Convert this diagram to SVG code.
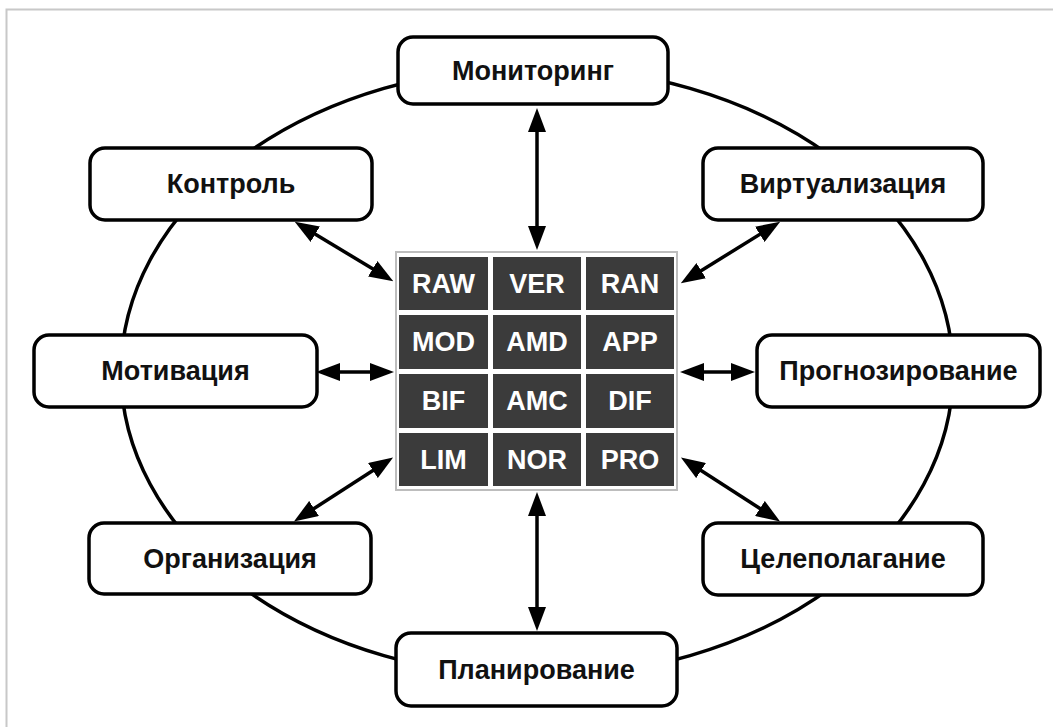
<svg xmlns="http://www.w3.org/2000/svg" width="1053" height="727" viewBox="0 0 1053 727">
<style>
.node rect{fill:#fff;stroke:#000;stroke-width:3.5}
.node text{font-family:"Liberation Sans",Arial,sans-serif;font-weight:bold;font-size:27px;fill:#111;text-anchor:middle;dominant-baseline:central}
.cell rect{fill:#3b3b3b}
.cell text{font-family:"Liberation Sans",Arial,sans-serif;font-weight:bold;font-size:27px;fill:#fff;text-anchor:middle;dominant-baseline:central}
.conn line{stroke:#000;stroke-width:3.5;marker-start:url(#ah);marker-end:url(#ah)}
</style>
<defs>
<marker id="ah" markerUnits="userSpaceOnUse" markerWidth="24" markerHeight="18" viewBox="0 0 24 18" refX="12" refY="9" orient="auto-start-reverse">
<path d="M0,0 L24,9 L0,18 z" fill="#000"/>
</marker>
</defs>
<rect x="0" y="0" width="1053" height="727" fill="#fff"/>
<rect x="6.5" y="9.5" width="1100" height="800" fill="none" stroke="#c8c8c8" stroke-width="2"/>
<ellipse cx="537" cy="372" rx="416" ry="305" fill="none" stroke="#000" stroke-width="3.5"/>
<g class="conn">
<line x1="537" y1="120" x2="537" y2="238"/>
<line x1="537" y1="504" x2="537" y2="619"/>
<line x1="305" y1="228" x2="383" y2="275"/>
<line x1="691" y1="277" x2="770" y2="228"/>
<line x1="328" y1="372" x2="382" y2="372"/>
<line x1="692" y1="372" x2="743" y2="372"/>
<line x1="383" y1="464" x2="304" y2="515"/>
<line x1="691" y1="464" x2="770" y2="515"/>
</g>
<g id="grid">
<rect x="396" y="252" width="281" height="238" fill="#fff" stroke="#bdbdbd" stroke-width="2"/>
<g class="cell" id="c-raw"><rect x="399" y="257" width="89" height="53"/><text x="443.5" y="283.5">RAW</text></g>
<g class="cell" id="c-ver"><rect x="493" y="257" width="88" height="53"/><text x="537" y="283.5">VER</text></g>
<g class="cell" id="c-ran"><rect x="586" y="257" width="88" height="53"/><text x="630" y="283.5">RAN</text></g>
<g class="cell" id="c-mod"><rect x="399" y="315" width="89" height="54"/><text x="443.5" y="342">MOD</text></g>
<g class="cell" id="c-amd"><rect x="493" y="315" width="88" height="54"/><text x="537" y="342">AMD</text></g>
<g class="cell" id="c-app"><rect x="586" y="315" width="88" height="54"/><text x="630" y="342">APP</text></g>
<g class="cell" id="c-bif"><rect x="399" y="374" width="89" height="54"/><text x="443.5" y="401">BIF</text></g>
<g class="cell" id="c-amc"><rect x="493" y="374" width="88" height="54"/><text x="537" y="401">AMC</text></g>
<g class="cell" id="c-dif"><rect x="586" y="374" width="88" height="54"/><text x="630" y="401">DIF</text></g>
<g class="cell" id="c-lim"><rect x="399" y="433" width="89" height="53"/><text x="443.5" y="459.5">LIM</text></g>
<g class="cell" id="c-nor"><rect x="493" y="433" width="88" height="53"/><text x="537" y="459.5">NOR</text></g>
<g class="cell" id="c-pro"><rect x="586" y="433" width="88" height="53"/><text x="630" y="459.5">PRO</text></g>
</g>
<g class="node" id="n-monitoring"><rect x="398" y="37" width="270" height="67" rx="15"/><text x="533" y="71">Мониторинг</text></g>
<g class="node" id="n-kontrol"><rect x="90" y="148" width="282" height="72" rx="15"/><text x="231" y="184">Контроль</text></g>
<g class="node" id="n-virt"><rect x="703" y="148" width="280" height="72" rx="15"/><text x="843" y="184">Виртуализация</text></g>
<g class="node" id="n-motiv"><rect x="34" y="335" width="283" height="72" rx="15"/><text x="175.5" y="371">Мотивация</text></g>
<g class="node" id="n-prog"><rect x="757" y="335" width="283" height="72" rx="15"/><text x="898.5" y="371">Прогнозирование</text></g>
<g class="node" id="n-org"><rect x="89" y="523" width="282" height="71" rx="15"/><text x="230" y="558.5">Организация</text></g>
<g class="node" id="n-cel"><rect x="703" y="523" width="280" height="72" rx="15"/><text x="843" y="559">Целеполагание</text></g>
<g class="node" id="n-plan"><rect x="396" y="633" width="281" height="73" rx="15"/><text x="536.5" y="669.5">Планирование</text></g>
</svg>
